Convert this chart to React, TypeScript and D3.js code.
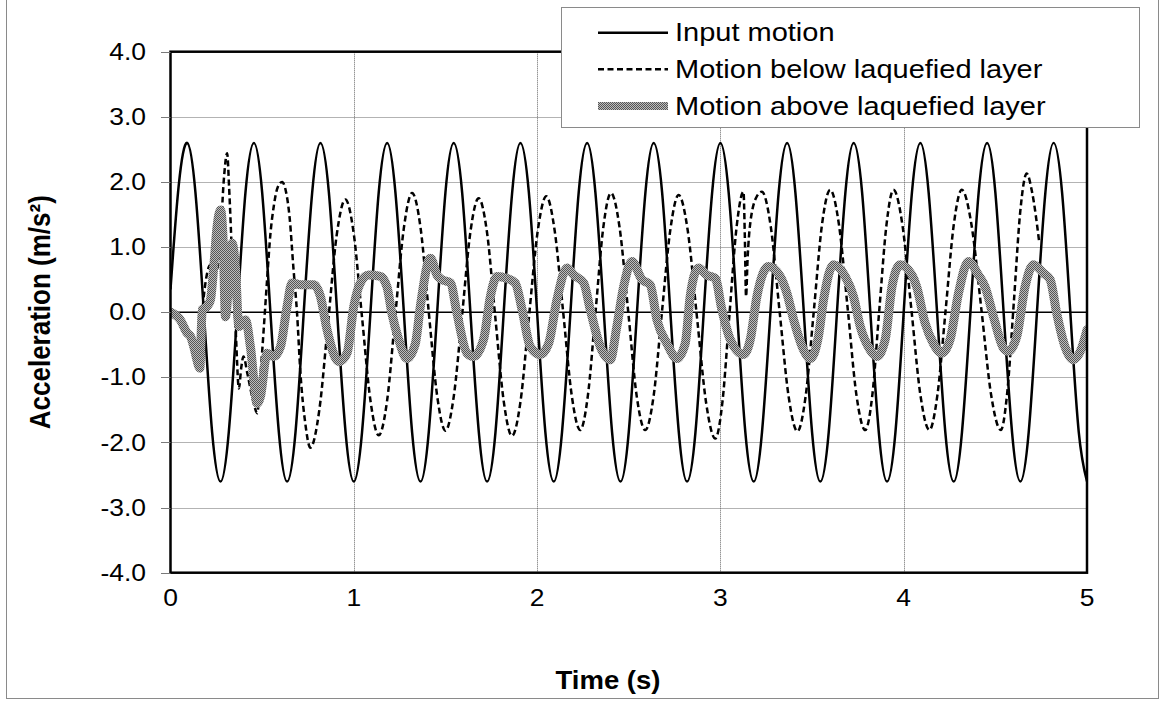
import React from "react";
import * as d3 from "d3";

// ---- data ----
const xTicks = [0, 1, 2, 3, 4, 5];
const yTicks = [-4, -3, -2, -1, 0, 1, 2, 3, 4];

const inputTime = [
  0, 0.045, 0.091, 0.136, 0.182, 0.227, 0.273, 0.318, 0.364, 0.409, 0.455, 0.5, 0.545, 0.591, 0.636, 0.682, 0.727, 0.773, 0.818, 0.864, 0.909, 0.955,
  1, 1.045, 1.091, 1.136, 1.182, 1.227, 1.273, 1.318, 1.364, 1.409, 1.455, 1.5, 1.545, 1.591, 1.636, 1.682, 1.727, 1.773, 1.818, 1.864, 1.909, 1.955,
  2, 2.045, 2.091, 2.136, 2.182, 2.227, 2.273, 2.318, 2.364, 2.409, 2.455, 2.5, 2.545, 2.591, 2.636, 2.682, 2.727, 2.773, 2.818, 2.864, 2.909, 2.955,
  3, 3.045, 3.091, 3.136, 3.182, 3.227, 3.273, 3.318, 3.364, 3.409, 3.455, 3.5, 3.545, 3.591, 3.636, 3.682, 3.727, 3.773, 3.818, 3.864, 3.909, 3.955,
  4, 4.045, 4.091, 4.136, 4.182, 4.227, 4.273, 4.318, 4.364, 4.409, 4.455, 4.5, 4.545, 4.591, 4.636, 4.682, 4.727, 4.773, 4.818, 4.864, 4.909, 4.955,
  5,
];
const inputAccel = [
  0.35, 1.95, 2.6, 1.84, 0, -1.84, -2.6, -1.84,
  0, 1.84, 2.6, 1.84, 0, -1.84, -2.6, -1.84,
  0, 1.84, 2.6, 1.84, 0, -1.84, -2.6, -1.84,
  0, 1.84, 2.6, 1.84, 0, -1.84, -2.6, -1.84,
  0, 1.84, 2.6, 1.84, 0, -1.84, -2.6, -1.84,
  0, 1.84, 2.6, 1.84, 0, -1.84, -2.6, -1.84,
  0, 1.84, 2.6, 1.84, 0, -1.84, -2.6, -1.84,
  0, 1.84, 2.6, 1.84, 0, -1.84, -2.6, -1.84,
  0, 1.84, 2.6, 1.84, 0, -1.84, -2.6, -1.84,
  0, 1.84, 2.6, 1.84, 0, -1.84, -2.6, -1.84,
  0, 1.84, 2.6, 1.84, 0, -1.84, -2.6, -1.84,
  0, 1.84, 2.6, 1.84, 0, -1.84, -2.6, -1.84,
  0, 1.84, 2.6, 1.84, 0, -1.84, -2.6, -1.84,
  0, 1.84, 2.6, 1.84, 0, -1.84, -2.6,
];

const belowTime = [
  0, 0.054, 0.091, 0.127, 0.16, 0.18, 0.2, 0.215, 0.245, 0.27, 0.29, 0.309, 0.32, 0.338, 0.356, 0.373, 0.386, 0.398, 0.42, 0.45, 0.473,
  0.49, 0.51, 0.527, 0.545, 0.563, 0.585, 0.609, 0.63, 0.65, 0.67, 0.69, 0.709, 0.735, 0.763,
  0.811, 0.859, 0.906, 0.954, 1.0, 1.045, 1.091, 1.136, 1.182, 1.227, 1.273, 1.318, 1.364, 1.409, 1.455, 1.5,
  1.545, 1.591, 1.636, 1.681, 1.727, 1.772, 1.818, 1.863, 1.91, 1.956, 2.003, 2.05, 2.096, 2.143, 2.189, 2.235,
  2.277, 2.319, 2.361, 2.403, 2.45, 2.497, 2.543, 2.59, 2.636, 2.681, 2.727, 2.772, 2.822, 2.872, 2.922, 2.972,
  3.011, 3.049, 3.088, 3.126, 3.133, 3.14, 3.148, 3.163, 3.199, 3.226, 3.275, 3.323, 3.372, 3.42,
  3.465, 3.51, 3.554, 3.599, 3.647, 3.695, 3.742, 3.79, 3.829, 3.867, 3.906, 3.944, 3.993, 4.042, 4.091, 4.14,
  4.184, 4.229, 4.273, 4.317, 4.37, 4.424, 4.477, 4.53, 4.565, 4.601, 4.636, 4.671, 4.7, 4.74,
];
const belowAccel = [
  0, -0.1, -0.3, -0.5, -0.5, 0.2, 0.6, 0.72, 0.6, 1.0, 2.0, 2.44, 1.9, 0.7, -0.3, -1.17, -0.85, -0.68, -0.95, -1.35, -1.55,
  -1.0, -0.2, 0.5, 1.2, 1.62, 1.92, 2.0, 1.85, 1.45, 0.7, 0.0, -0.94, -1.7, -2.08,
  -1.52, -0.18, 1.17, 1.73, 1.2, -0.08, -1.36, -1.89, -1.35, -0.03, 1.29, 1.83, 1.3, 0.0, -1.29, -1.82,
  -1.3, -0.04, 1.23, 1.75, 1.22, -0.08, -1.37, -1.9, -1.36, -0.06, 1.24, 1.78, 1.25, -0.02, -1.28, -1.81,
  -1.28, 0.01, 1.3, 1.83, 1.3, 0.01, -1.28, -1.81, -1.28, 0.0, 1.27, 1.8, 1.25, -0.07, -1.39, -1.94,
  -1.38, -0.05, 1.3, 1.85, 1.2, 0.24, 0.8, 1.37, 1.78, 1.85, 1.31, 0.01, -1.29, -1.83,
  -1.29, 0.03, 1.34, 1.88, 1.34, 0.04, -1.27, -1.81, -1.27, 0.04, 1.34, 1.88, 1.34, 0.04, -1.27, -1.81,
  -1.27, 0.04, 1.34, 1.88, 1.34, 0.04, -1.27, -1.81, -1.23, 0.16, 1.55, 2.13, 1.85, 1.06,
];

const aboveTime = [
  0, 0.054, 0.091, 0.109, 0.127, 0.154, 0.16, 0.173, 0.2, 0.218, 0.236, 0.254, 0.273, 0.287, 0.3, 0.318, 0.336, 0.354, 0.373,
  0.409, 0.436, 0.473, 0.491, 0.527, 0.563, 0.6, 0.636, 0.663, 0.709, 0.782, 0.818, 0.854, 0.918, 0.963,
  1.0, 1.036, 1.081, 1.145, 1.181, 1.208, 1.245, 1.29, 1.336, 1.363, 1.418, 1.454, 1.481, 1.527, 1.563, 1.618, 1.654,
  1.708, 1.745, 1.781, 1.836, 1.881, 1.918, 1.963, 2.018, 2.063, 2.108, 2.163, 2.2, 2.254, 2.29, 2.345, 2.399,
  2.435, 2.472, 2.517, 2.572, 2.617, 2.654, 2.708, 2.763, 2.808, 2.835, 2.88, 2.926, 2.972, 3.008, 3.054, 3.126,
  3.163, 3.199, 3.262, 3.326, 3.363, 3.4, 3.454, 3.49, 3.535, 3.563, 3.617, 3.681, 3.726, 3.763, 3.817, 3.854,
  3.899, 3.936, 3.981, 4.045, 4.071, 4.117, 4.162, 4.208, 4.253, 4.299, 4.353, 4.408, 4.444, 4.49, 4.544, 4.571,
  4.617, 4.662, 4.708, 4.762, 4.799, 4.835, 4.88, 4.926, 4.971, 5.0,
];
const aboveAccel = [
  0, -0.12, -0.32, -0.37, -0.53, -0.83, -0.86, 0.04, 0.09, 0.19, 0.7, 1.31, 1.57, 1.11, -0.07, 0.5, 1.06, 0.7, -0.22,
  -0.12, -0.53, -1.4, -1.29, -0.63, -0.68, -0.53, 0.09, 0.45, 0.42, 0.42, 0.24, -0.27, -0.76, -0.63,
  0.09, 0.45, 0.57, 0.55, 0.39, -0.02, -0.42, -0.71, -0.48, 0.09, 0.83, 0.57, 0.5, 0.45, -0.02, -0.63, -0.68,
  -0.42, 0.24, 0.55, 0.52, 0.45, 0.04, -0.53, -0.65, -0.48, 0.19, 0.68, 0.57, 0.45, 0.04, -0.53, -0.73,
  -0.22, 0.39, 0.78, 0.5, 0.42, -0.12, -0.48, -0.71, -0.48, 0.24, 0.68, 0.57, 0.52, 0.04, -0.42, -0.65,
  -0.42, 0.24, 0.7, 0.55, 0.29, -0.12, -0.58, -0.71, -0.37, 0.19, 0.73, 0.55, 0.24, -0.22, -0.58, -0.68,
  -0.42, 0.39, 0.73, 0.57, 0.39, -0.17, -0.48, -0.63, -0.42, 0.29, 0.78, 0.57, 0.39, -0.07, -0.55, -0.6,
  -0.37, 0.39, 0.73, 0.6, 0.5, -0.02, -0.53, -0.73, -0.55, -0.27,
];

const legendLabels = ["Input motion", "Motion below laquefied layer", "Motion above laquefied layer"];

const FONT = "'Liberation Sans', Arial, Helvetica, sans-serif";
const SX = 1.15; // horizontal stretch of the reference's text

export default function App() {
  const x = d3.scaleLinear().domain([0, 5]).range([170.5, 1087]);
  const y = d3.scaleLinear().domain([-4, 4]).range([572.7, 51.7]);
  const snap = (v: number) => Math.round(v) + 0.5;

  const mk = (ts: number[], vs: number[], curve: any) =>
    d3
      .line<number>()
      .x((_, i) => x(ts[i]))
      .y((v) => y(v))
      .curve(curve)(vs) || "";

  const inputPath = mk(inputTime, inputAccel, d3.curveNatural);
  const belowPath = mk(belowTime, belowAccel, d3.curveMonotoneX);
  const abovePath = mk(aboveTime, aboveAccel, d3.curveMonotoneX);

  const [x0, x1] = x.range();
  const yTop = y(4);
  const yBot = y(-4);

  const legX = 561.5;
  const legY = 7.5;
  const legRows = [32.7, 69.3, 106];

  const T = (tx: number, ty: number, s = SX) => `translate(${tx},${ty}) scale(${s},1)`;

  return (
    <svg
      width={1165}
      height={701}
      style={{ position: "absolute", left: 0, top: 0, background: "#fff" }}
      fontFamily={FONT}
    >
      <defs>
        <pattern id="checker" patternUnits="userSpaceOnUse" width={2} height={2}>
          <rect width={2} height={2} fill="#bdbdbd" />
          <rect width={1} height={1} fill="#555" />
          <rect x={1} y={1} width={1} height={1} fill="#555" />
        </pattern>
        <clipPath id="plotclip">
          <rect x={x0} y={yTop} width={x1 - x0} height={yBot - yTop} />
        </clipPath>
      </defs>
      <rect x={0} y={0} width={1165} height={701} fill="#fff" />
      {/* outer chart border */}
      <rect x={6.5} y={-10} width={1152} height={708.5} fill="none" stroke="#8a8a8a" strokeWidth={1} />

      {/* gridlines */}
      {yTicks
        .filter((v) => v !== 0 && v !== 4 && v !== -4)
        .map((v) => (
          <line key={"gy" + v} x1={x0} x2={x1} y1={snap(y(v))} y2={snap(y(v))} stroke="#666" strokeWidth={1} strokeDasharray="1,1" />
        ))}
      {xTicks
        .filter((v) => v !== 0 && v !== 5)
        .map((v) => (
          <line key={"gx" + v} x1={snap(x(v))} x2={snap(x(v))} y1={yTop} y2={yBot} stroke="#666" strokeWidth={1} strokeDasharray="1,1" />
        ))}
      {/* zero line */}
      <line x1={x0} x2={x1} y1={y(0)} y2={y(0)} stroke="#000" strokeWidth={1.6} />

      {/* series */}
      <g clipPath="url(#plotclip)">
        <path d={inputPath} fill="none" stroke="#000" strokeWidth={2.5} />
        <path d={belowPath} fill="none" stroke="#000" strokeWidth={2.5} strokeDasharray="6,3.5" />
        <path d={abovePath} fill="none" stroke="url(#checker)" strokeWidth={9} strokeLinejoin="round" strokeLinecap="round" />
      </g>

      {/* plot frame */}
      <rect x={x0} y={yTop} width={x1 - x0} height={yBot - yTop} fill="none" stroke="#000" strokeWidth={2.5} />

      {/* y ticks */}
      {yTicks.map((v) => (
        <g key={"yt" + v}>
          <line x1={161} x2={x0} y1={snap(y(v))} y2={snap(y(v))} stroke="#7a7a7a" strokeWidth={1} />
          <text transform={T(146, y(v))} dy="0.35em" textAnchor="end" fontSize={23} fill="#000">
            {v.toFixed(1)}
          </text>
        </g>
      ))}
      {/* x tick labels */}
      {xTicks.map((v) => (
        <text key={"xt" + v} transform={T(x(v), 598)} dy="0.35em" textAnchor="middle" fontSize={23} fill="#000">
          {v}
        </text>
      ))}

      {/* axis titles */}
      <text transform={T(608, 680, 1.1)} dy="0.35em" textAnchor="middle" fontSize={25} fontWeight="bold" fill="#000">
        Time (s)
      </text>
      <text
        transform={`translate(40,${y(0)}) rotate(-90) scale(1,1.1)`}
        dy="0.35em"
        textAnchor="middle"
        fontSize={26}
        fontWeight="bold"
        fill="#000"
      >
        Acceleration (m/s²)
      </text>

      {/* legend */}
      <rect x={legX} y={legY} width={578} height={120} fill="#fff" stroke="#8a8a8a" strokeWidth={1} />
      <line x1={598} x2={668} y1={legRows[0]} y2={legRows[0]} stroke="#000" strokeWidth={2.5} />
      <line x1={598} x2={668} y1={legRows[1]} y2={legRows[1]} stroke="#000" strokeWidth={2.5} strokeDasharray="6,3.5" />
      <line x1={598} x2={668} y1={legRows[2]} y2={legRows[2]} stroke="url(#checker)" strokeWidth={8} />
      {legendLabels.map((l, i) => (
        <text key={l} transform={T(675, legRows[i], 1.16)} dy="0.35em" fontSize={25} fill="#000">
          {l}
        </text>
      ))}
    </svg>
  );
}
